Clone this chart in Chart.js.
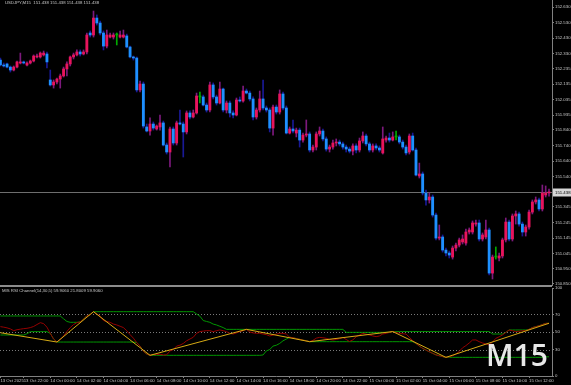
<!DOCTYPE html>
<html>
<head>
<meta charset="utf-8">
<title>USDJPY M15</title>
<script src="https://cdn.jsdelivr.net/npm/chart.js@4.4.1/dist/chart.umd.min.js"></script>
<style>
  html, body { margin: 0; padding: 0; background: #000; overflow: hidden; }
  #wrap { position: relative; width: 571px; height: 385px; }
  canvas { position: absolute; left: 0; }
  #price { top: 0; }
  #rsi { top: 284px; }
  #sep { position: absolute; left: 0; top: 285px; width: 552px; height: 2px; background: #8c8c8c; }
</style>
</head>
<body>
<div id="wrap">
  <canvas id="price" width="571" height="286"></canvas>
  <canvas id="rsi" width="571" height="101"></canvas>
  <div id="sep"></div>
</div>
<script>
/* USDJPY M15 bars, 13 Oct 20:15 -> 15 Oct 13:30 (one entry per bar) */
var opens = [
  152.289, 152.257, 152.264, 152.244, 152.225, 152.244, 152.270, 152.277, 152.257, 152.270,
  152.283, 152.309, 152.309, 152.322, 152.328, 152.161, 152.129, 152.148, 152.167, 152.187,
  152.232, 152.264, 152.309, 152.322, 152.341, 152.328, 152.341, 152.463, 152.450, 152.559,
  152.527, 152.463, 152.379, 152.437, 152.437, 152.450, 152.437, 152.437, 152.444, 152.373,
  152.309, 152.302, 152.097, 152.135, 151.859, 151.833, 151.878, 151.846, 151.859, 151.885,
  151.743, 151.698, 151.846, 151.756, 151.885, 151.878, 151.827, 151.949, 151.923, 151.949,
  152.052, 152.052, 152.000, 151.968, 152.129, 152.052, 152.013, 152.103, 151.968, 152.013,
  151.949, 151.936, 152.032, 152.026, 152.090, 152.077, 152.039, 151.923, 151.968, 152.039,
  151.981, 151.968, 151.852, 151.987, 151.955, 152.071, 151.981, 151.820, 151.846, 151.820,
  151.839, 151.775, 151.807, 151.814, 151.711, 151.730, 151.814, 151.833, 151.782, 151.717,
  151.730, 151.756, 151.762, 151.750, 151.730, 151.717, 151.704, 151.737, 151.711, 151.769,
  151.801, 151.750, 151.711, 151.737, 151.724, 151.692, 151.775, 151.788, 151.775, 151.795,
  151.795, 151.762, 151.730, 151.698, 151.801, 151.711, 151.544, 151.557, 151.435, 151.390,
  151.409, 151.293, 151.145, 151.152, 151.068, 151.049, 151.023, 151.081, 151.100, 151.120,
  151.113, 151.184, 151.184, 151.235, 151.242, 151.139, 151.152, 151.197, 150.920, 151.023,
  151.017, 151.030, 151.133, 151.248, 151.139, 151.287, 151.300, 151.235, 151.184, 151.216,
  151.312, 151.377, 151.390, 151.332, 151.422, 151.435
];
var highs = [
  152.302, 152.270, 152.270, 152.251, 152.251, 152.283, 152.334, 152.283, 152.277, 152.289,
  152.322, 152.328, 152.341, 152.347, 152.341, 152.225, 152.161, 152.174, 152.199, 152.244,
  152.277, 152.315, 152.334, 152.354, 152.354, 152.354, 152.463, 152.476, 152.604, 152.579,
  152.540, 152.476, 152.482, 152.463, 152.463, 152.463, 152.476, 152.482, 152.456, 152.379,
  152.315, 152.309, 152.154, 152.148, 151.878, 151.917, 151.891, 151.872, 151.936, 151.897,
  151.756, 151.859, 151.859, 151.897, 151.968, 151.891, 151.962, 151.962, 151.968, 152.077,
  152.084, 152.064, 152.013, 152.148, 152.142, 152.064, 152.148, 152.109, 152.026, 152.026,
  151.962, 152.045, 152.052, 152.122, 152.103, 152.090, 152.052, 151.981, 152.090, 152.161,
  151.994, 151.981, 152.000, 152.000, 152.097, 152.084, 151.994, 151.859, 151.904, 151.852,
  151.852, 151.820, 151.904, 151.827, 151.743, 151.827, 151.859, 151.846, 151.795, 151.743,
  151.775, 151.782, 151.775, 151.762, 151.743, 151.730, 151.750, 151.750, 151.788, 151.827,
  151.814, 151.762, 151.750, 151.750, 151.737, 151.859, 151.801, 151.820, 151.827, 151.833,
  151.807, 151.775, 151.743, 151.814, 151.820, 151.724, 151.627, 151.570, 151.454, 151.435,
  151.422, 151.306, 151.229, 151.165, 151.081, 151.062, 151.094, 151.113, 151.145, 151.165,
  151.203, 151.210, 151.255, 151.261, 151.261, 151.178, 151.261, 151.210, 151.036, 151.088,
  151.049, 151.145, 151.274, 151.261, 151.300, 151.319, 151.312, 151.248, 151.229, 151.325,
  151.390, 151.409, 151.402, 151.486, 151.480, 151.460
];
var lows = [
  152.251, 152.244, 152.238, 152.212, 152.219, 152.238, 152.264, 152.264, 152.251, 152.264,
  152.277, 152.302, 152.302, 152.315, 152.238, 152.122, 152.109, 152.135, 152.109, 152.180,
  152.187, 152.251, 152.296, 152.315, 152.315, 152.322, 152.328, 152.437, 152.437, 152.514,
  152.450, 152.354, 152.367, 152.431, 152.424, 152.386, 152.431, 152.431, 152.367, 152.302,
  152.289, 152.084, 152.084, 151.852, 151.827, 151.807, 151.839, 151.839, 151.839, 151.737,
  151.685, 151.602, 151.743, 151.743, 151.872, 151.666, 151.814, 151.910, 151.917, 151.942,
  152.013, 151.994, 151.955, 151.955, 152.039, 152.000, 152.007, 151.955, 151.949, 151.923,
  151.917, 151.930, 152.019, 152.019, 152.071, 152.026, 151.904, 151.910, 151.955, 151.968,
  151.955, 151.827, 151.807, 151.942, 151.942, 151.968, 151.814, 151.814, 151.820, 151.795,
  151.730, 151.762, 151.795, 151.698, 151.698, 151.711, 151.801, 151.769, 151.704, 151.698,
  151.717, 151.737, 151.737, 151.717, 151.698, 151.692, 151.679, 151.692, 151.698, 151.756,
  151.737, 151.698, 151.698, 151.711, 151.698, 151.685, 151.762, 151.762, 151.769, 151.775,
  151.750, 151.717, 151.679, 151.685, 151.704, 151.544, 151.531, 151.422, 151.357, 151.370,
  151.280, 151.133, 151.133, 151.055, 151.030, 151.017, 151.010, 151.062, 151.088, 151.107,
  151.100, 151.171, 151.171, 151.222, 151.126, 151.126, 151.139, 150.908, 150.882, 151.010,
  150.998, 151.017, 151.120, 151.126, 151.126, 151.235, 151.222, 151.158, 151.158, 151.203,
  151.300, 151.364, 151.319, 151.319, 151.409, 151.415
];
var closes = [
  152.257, 152.251, 152.244, 152.225, 152.244, 152.277, 152.277, 152.270, 152.270, 152.283,
  152.315, 152.315, 152.334, 152.334, 152.277, 152.129, 152.148, 152.167, 152.187, 152.232,
  152.264, 152.309, 152.322, 152.341, 152.328, 152.341, 152.450, 152.450, 152.559, 152.527,
  152.463, 152.379, 152.450, 152.450, 152.450, 152.450, 152.450, 152.450, 152.373, 152.309,
  152.302, 152.097, 152.135, 151.865, 151.833, 151.878, 151.852, 151.865, 151.885, 151.743,
  151.698, 151.846, 151.756, 151.885, 151.878, 151.827, 151.949, 151.923, 151.949, 152.058,
  152.052, 152.000, 151.968, 152.129, 152.052, 152.013, 152.103, 151.968, 152.013, 151.949,
  151.936, 152.032, 152.026, 152.090, 152.077, 152.039, 151.923, 151.968, 152.039, 151.981,
  151.968, 151.852, 151.987, 151.955, 152.071, 151.981, 151.820, 151.846, 151.833, 151.839,
  151.775, 151.807, 151.814, 151.711, 151.730, 151.814, 151.833, 151.782, 151.717, 151.730,
  151.756, 151.762, 151.750, 151.730, 151.717, 151.704, 151.737, 151.711, 151.769, 151.801,
  151.750, 151.711, 151.737, 151.724, 151.711, 151.782, 151.788, 151.775, 151.795, 151.795,
  151.762, 151.730, 151.692, 151.801, 151.711, 151.550, 151.557, 151.435, 151.390, 151.409,
  151.293, 151.145, 151.152, 151.068, 151.049, 151.036, 151.081, 151.100, 151.133, 151.139,
  151.184, 151.197, 151.242, 151.242, 151.139, 151.165, 151.197, 150.920, 151.023, 151.023,
  151.030, 151.133, 151.248, 151.139, 151.287, 151.300, 151.235, 151.184, 151.216, 151.312,
  151.377, 151.390, 151.332, 151.435, 151.435, 151.438
];

/* MIS RSI Channel(14,30,5) */
var rsi = [
  56.1, 55.5, 54.7, 53.5, 51.5, 52.6, 53.2, 53.8, 54.2, 55,
  56.3, 58.5, 60.6, 59.5, 55.5, 48.5, 42, 38.6, 41.5, 45.5,
  50.5, 55, 58.5, 60.5, 61.5, 64.5, 68.5, 69.5, 73.1, 70.5,
  68, 63, 62, 61, 59, 58, 56.5, 55, 51.5, 47,
  43, 38, 34, 28, 25, 23.5, 24.5, 24.2, 24.8, 23.9,
  24, 28.5, 30, 34, 35, 37, 40, 42, 44, 48.5,
  50.5, 51, 51.5, 51.5, 50.4, 51.5, 52.3, 51.5, 50.4, 48.5,
  47.7, 49, 50.4, 51.5, 53, 50, 49, 48.5, 48.5, 47.7,
  47, 45.5, 46.5, 47.5, 48.5, 48.5, 47.7, 44, 43.5, 42.5,
  41.7, 40.8, 40, 39, 40.5, 43, 43.9, 43.5, 42.8, 41.5,
  40.9, 41.5, 42.5, 43.9, 41.5, 39.2, 41, 44.7, 46.5, 48.5,
  47.5, 46.6, 45.5, 44.7, 45.5, 47.7, 48.5, 49.5, 50.5, 49.5,
  48.5, 48, 47.7, 44, 40.2, 37, 34, 31.4, 29.5, 27.5,
  25.8, 24, 23, 22, 21.2, 21.8, 22.8, 25, 28, 32,
  34.5, 37.5, 40.9, 41, 39, 37.5, 36.5, 35.2, 38.5, 42.8,
  44.5, 46.6, 49.5, 52.3, 51.5, 50.4, 50.8, 51.5, 51.5, 53,
  55, 56.1, 57, 58.5, 59.8, 59.906
];
var rsiUpper = [
  68.2, 68.2, 68.2, 68.2, 68.2, 68.2, 68.2, 68.2, 68.2, 68.2,
  68.2, 68.2, 68.2, 68.2, 68.2, 68.2, 68.2, 68.2, 68.2, 65,
  62, 61, 61, 61, 61.5, 64.5, 68.5, 69.5, 73.1, 73.1,
  73.1, 73.1, 73.1, 73.1, 73.1, 73.1, 73.1, 73.1, 73.1, 73.1,
  73.1, 73.1, 73.1, 73.1, 73.1, 73.1, 73.1, 73.1, 73.1, 73.1,
  73.1, 73.1, 73.1, 73.1, 73.1, 73.1, 73.1, 73.1, 73.1, 70.5,
  68, 63, 62, 61, 59, 58, 56.5, 55, 53, 53,
  53, 53, 53, 53, 53, 53, 53, 53, 53, 53,
  53, 53, 53, 53, 53, 53, 53, 53, 53, 53,
  53, 53, 53, 53, 53, 53, 53, 53, 53, 53,
  53, 53, 53, 53, 49.6, 49.6, 49.6, 49.6, 49.6, 49.6,
  49.6, 49.6, 49.6, 49.6, 49.6, 49.6, 49.6, 49.6, 50.5, 50.5,
  50.5, 50.5, 50.5, 50.5, 50.5, 50.5, 50.5, 50.5, 50.5, 50.5,
  50.5, 50.5, 50.5, 50.5, 50.5, 50.5, 50.5, 50.5, 50.5, 50.5,
  50.5, 50.5, 50.5, 50.5, 50.5, 50.5, 50.5, 50.5, 47.7, 47.7,
  47.7, 47.7, 49.5, 52.3, 52.3, 52.3, 52.3, 52.3, 52.3, 53,
  55, 56.1, 57, 58.5, 59.8, 59.906
];
var rsiLower = [
  46.6, 46.6, 46.6, 46.6, 46.6, 46.6, 46.6, 46.6, 48, 50.4,
  50.4, 50.4, 50.4, 50.4, 50.4, 48.5, 42, 38.6, 38.6, 38.6,
  38.6, 38.6, 38.6, 38.6, 38.6, 38.6, 38.6, 38.6, 38.6, 38.6,
  38.6, 38.6, 38.6, 38.6, 38.6, 38.6, 38.6, 38.6, 38.6, 38.6,
  38.6, 38, 34, 28, 25, 23.5, 23.5, 23.5, 23.5, 23.5,
  23.5, 23.5, 23.5, 23.5, 23.5, 23.5, 23.5, 23.5, 23.5, 23.5,
  23.5, 23.5, 23.5, 23.5, 23.5, 23.5, 23.5, 23.5, 23.5, 23.5,
  23.5, 23.5, 23.5, 23.5, 23.5, 23.5, 23.5, 23.5, 23.5, 23.9,
  28.5, 30, 34, 35, 37, 40, 42, 44, 43.5, 42.5,
  41.7, 40.8, 40, 39, 39, 39, 39, 39, 39, 39,
  39, 39, 39, 39, 39, 39, 39, 39, 39, 39,
  39, 39, 39, 39, 39, 39, 39, 39, 39, 39,
  39, 39, 39, 39, 39, 37, 34, 31.4, 29.5, 27.5,
  25.8, 24, 23, 22, 21.2, 21.2, 21.2, 21.2, 21.2, 21.2,
  21.2, 21.2, 21.2, 21.2, 21.2, 21.2, 21.2, 21.2, 21.2, 21.2,
  21.2, 21.2, 21.2, 21.2, 21.2, 21.2, 21.2, 21.2, 21.2, 21.2,
  21.2, 21.2, 21.2, 21.2, 21.8009, 21.8009
];
var zigzagBars = [0, 17, 28, 45, 74, 93, 118, 134, 165];
var zigzagValues = [49.2, 38.6, 73.1, 23.5, 53, 39, 50.5, 21.2, 59.906];

/* axis labels */
var priceTicks = [152.630, 152.530, 152.430, 152.330, 152.235, 152.135, 152.035, 151.935, 151.840, 151.740,
  151.640, 151.540, 151.440, 151.345, 151.245, 151.145, 151.045, 150.950, 150.850];
var rsiTicks = [100, 70, 50, 30, 0];
var rsiLevels = [70, 50, 30];
var timeTickBars = [0, 7, 15, 23, 31, 39, 47, 55, 63, 71, 79, 87, 95, 103, 111, 119, 127, 135, 143, 151, 159];
var timeTickLabels = ["13 Oct 2025", "13 Oct 22:00", "14 Oct 00:00", "14 Oct 02:00", "14 Oct 04:00",
  "14 Oct 06:00", "14 Oct 08:00", "14 Oct 10:00", "14 Oct 12:00", "14 Oct 14:00", "14 Oct 16:00",
  "14 Oct 18:00", "14 Oct 20:00", "14 Oct 22:00", "15 Oct 00:00", "15 Oct 02:00", "15 Oct 04:00",
  "15 Oct 06:00", "15 Oct 08:00", "15 Oct 10:00", "15 Oct 12:00"];

var headerText = "USDJPY,M15  151.438 151.438 151.438 151.438";
var rsiTitle = "MIS RSI Channel(14,30,5) 59.9060 21.8009 59.9060";

var BULL = "rgb(232,20,92)", BEAR = "rgb(30,144,255)", DOJI = "rgb(0,170,0)";
var BULL_WICK = "rgb(125,25,125)", BEAR_WICK = "rgb(25,25,150)";
var AXIS = "#808080", LABEL = "#c8c8c8";
var tickFont = { family: "Liberation Sans", size: 4.3 };

function candleColor(i, body) {
  if (closes[i] > opens[i]) return body ? BULL : BULL_WICK;
  if (closes[i] < opens[i]) return body ? BEAR : BEAR_WICK;
  return DOJI;
}
function series(values) {
  return values.map(function (v, i) { return { x: i, y: v }; });
}
function noPad(width) {
  return function (s) {
    s.width = width;
    s.paddingTop = 0;
    s.paddingBottom = 0;
  };
}

// bid line + price box, and the symbol header
var bidLine = {
  id: "bidLine",
  beforeDatasetsDraw: function (chart) {
    var ctx = chart.ctx, a = chart.chartArea;
    var y = Math.round(chart.scales.y.getPixelForValue(closes[closes.length - 1])) + 0.5;
    ctx.save();
    ctx.strokeStyle = "#6e6e6e";
    ctx.lineWidth = 1;
    ctx.beginPath();
    ctx.moveTo(a.left, y);
    ctx.lineTo(a.right, y);
    ctx.stroke();
    ctx.restore();
  },
  afterDraw: function (chart) {
    var ctx = chart.ctx, a = chart.chartArea;
    var last = closes[closes.length - 1];
    var y = Math.round(chart.scales.y.getPixelForValue(last)) + 0.5;
    ctx.save();
    ctx.fillStyle = "#d6d6d6";
    ctx.fillRect(a.right + 1, y - 4, 18, 8);
    ctx.fillStyle = "#000";
    ctx.font = "4.3px 'Liberation Sans'";
    ctx.textBaseline = "middle";
    ctx.fillText(last.toFixed(3), a.right + 3, y);
    ctx.fillStyle = LABEL;
    ctx.fillText(headerText, 5, 3);
    ctx.restore();
  }
};

new Chart(document.getElementById("price"), {
  type: "bar",
  data: {
    datasets: [
      {
        data: lows.map(function (l, i) { return { x: i, y: [l, highs[i]] }; }),
        backgroundColor: function (c) { return candleColor(c.dataIndex, false); },
        barThickness: 1,
        minBarLength: 1,
        grouped: false,
        order: 2
      },
      {
        data: opens.map(function (o, i) { return { x: i, y: [o, closes[i]] }; }),
        backgroundColor: function (c) { return candleColor(c.dataIndex, true); },
        barThickness: 2.2,
        minBarLength: 1,
        grouped: false,
        order: 1
      }
    ]
  },
  options: {
    responsive: false,
    animation: false,
    layout: { padding: 0 },
    plugins: { legend: { display: false }, tooltip: { enabled: false } },
    scales: {
      x: { type: "linear", min: -0.12, max: 165.9, offset: false, display: false },
      y: {
        position: "right",
        min: 150.837,
        max: 152.675,
        afterBuildTicks: function (s) { s.ticks = priceTicks.map(function (v) { return { value: v }; }); },
        afterFit: noPad(19),
        ticks: { color: LABEL, font: tickFont, padding: 1, callback: function (v) { return v.toFixed(3); } },
        grid: { drawOnChartArea: false, color: AXIS, tickLength: 2 },
        border: { color: AXIS }
      }
    }
  },
  plugins: [bidLine]
});

// dotted levels, indicator title and the timeframe watermark
var rsiDecor = {
  id: "rsiDecor",
  beforeDatasetsDraw: function (chart) {
    var ctx = chart.ctx, a = chart.chartArea, ys = chart.scales.y;
    ctx.save();
    ctx.strokeStyle = "#7a7a7a";
    ctx.lineWidth = 1;
    ctx.setLineDash([1, 2]);
    rsiLevels.forEach(function (lv) {
      var y = Math.round(ys.getPixelForValue(lv)) + 0.5;
      ctx.beginPath();
      ctx.moveTo(a.left, y);
      ctx.lineTo(a.right, y);
      ctx.stroke();
    });
    ctx.restore();
  },
  afterDatasetsDraw: function (chart) {
    var ctx = chart.ctx;
    ctx.save();
    ctx.fillStyle = LABEL;
    ctx.font = "4.3px 'Liberation Sans'";
    ctx.textBaseline = "middle";
    ctx.fillText(rsiTitle, 2, 7);
    ctx.fillStyle = "#e8e8e8";
    ctx.font = "600 30px 'Open Sans'";
    ctx.textAlign = "right";
    ctx.textBaseline = "alphabetic";
    ctx.fillText("M15", 548, 82);
    ctx.restore();
  }
};

new Chart(document.getElementById("rsi"), {
  type: "line",
  data: {
    datasets: [
      { data: zigzagBars.map(function (b, k) { return { x: b, y: zigzagValues[k] }; }), borderColor: "rgb(214,170,20)", order: 1 },
      { data: series(rsi), borderColor: "rgb(150,0,0)", order: 2 },
      { data: series(rsiUpper), borderColor: "rgb(0,150,0)", order: 3 },
      { data: series(rsiLower), borderColor: "rgb(0,150,0)", order: 3 }
    ]
  },
  options: {
    responsive: false,
    animation: false,
    layout: { padding: { top: 4, left: 0, right: 0, bottom: 0 } },
    elements: { point: { radius: 0 }, line: { borderWidth: 1, tension: 0 } },
    plugins: { legend: { display: false }, tooltip: { enabled: false } },
    scales: {
      x: {
        type: "linear",
        min: -0.12,
        max: 165.9,
        offset: false,
        afterBuildTicks: function (s) { s.ticks = timeTickBars.map(function (v) { return { value: v }; }); },
        afterFit: function (s) { s.height = 9; s.paddingLeft = 0; s.paddingRight = 0; },
        ticks: {
          color: LABEL, font: tickFont, align: "start", autoSkip: false, maxRotation: 0, padding: 0,
          callback: function (v) { return timeTickLabels[timeTickBars.indexOf(v)]; }
        },
        grid: { drawOnChartArea: false, color: AXIS, tickLength: 2 },
        border: { color: AXIS }
      },
      y: {
        position: "right",
        min: 0,
        max: 100,
        afterBuildTicks: function (s) { s.ticks = rsiTicks.map(function (v) { return { value: v }; }); },
        afterFit: noPad(19),
        ticks: { color: LABEL, font: tickFont, padding: 1, callback: function (v) { return String(v); } },
        grid: { drawOnChartArea: false, color: AXIS, tickLength: 2 },
        border: { color: AXIS }
      }
    }
  },
  plugins: [rsiDecor]
});
</script>
</body>
</html>
